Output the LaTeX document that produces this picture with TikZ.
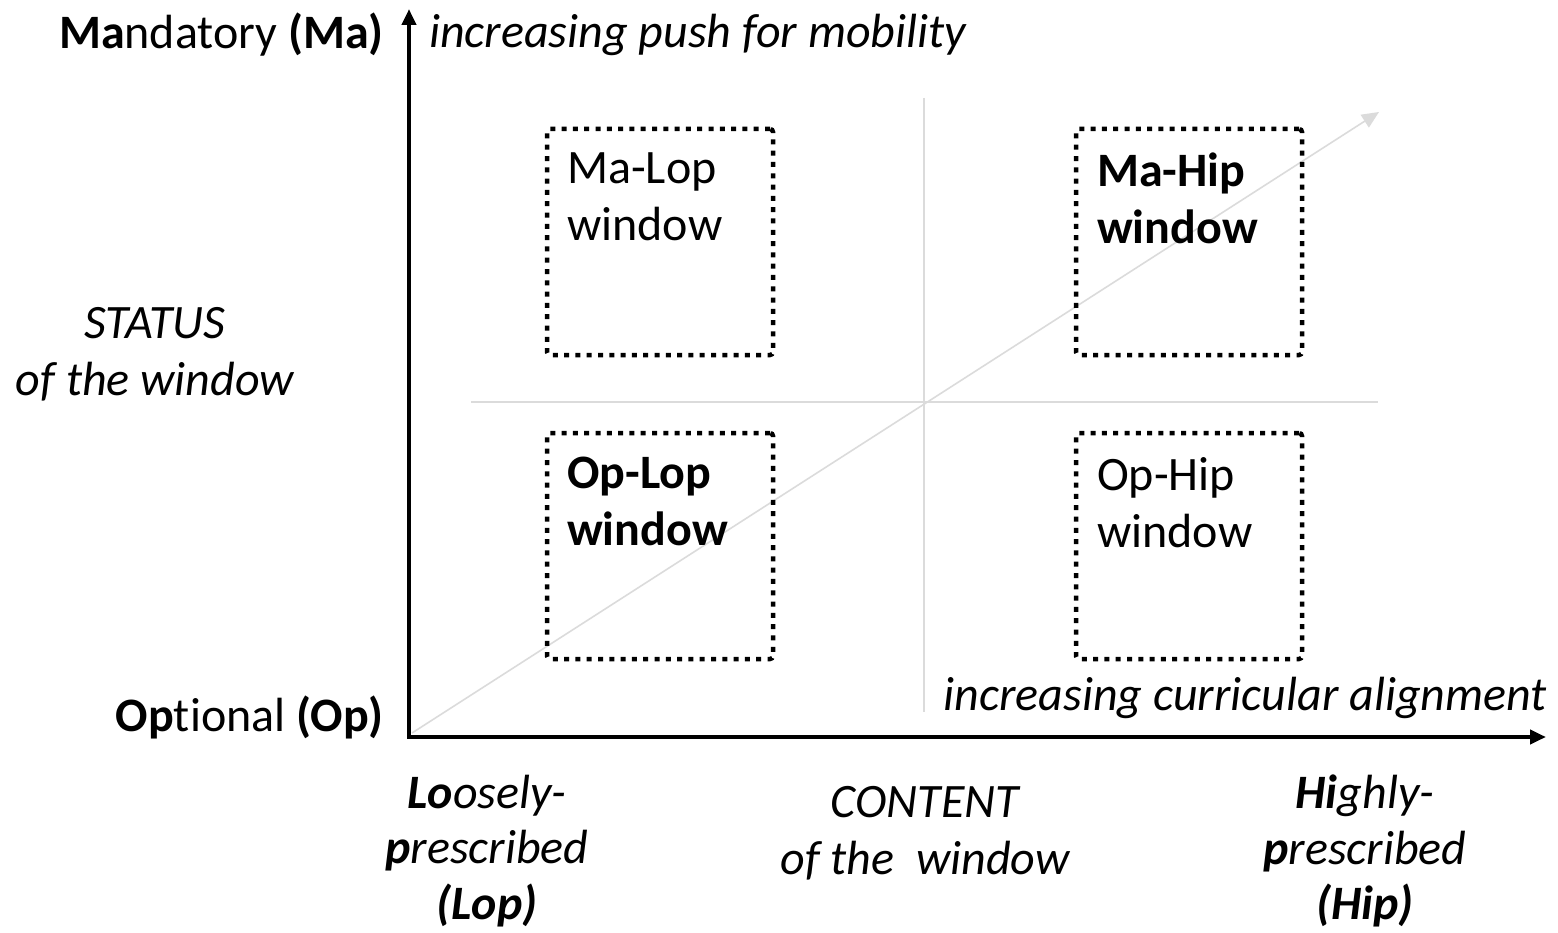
\documentclass[tikz,border=0pt]{standalone}
\usepackage{fontspec}
\setmainfont{Carlito}[Ligatures=NoCommon]
\usetikzlibrary{arrows.meta}
\begin{document}
\begin{tikzpicture}[x=1pt,y=-1pt,
  lbl/.style={inner sep=0pt,font=\fontsize{48}{57}\selectfont,align=center},
  boldlbl/.style={lbl,font=\fontsize{48}{57}\selectfont\bfseries},
  bottomlbl/.style={lbl,font=\fontsize{48}{55.5}\selectfont\itshape},
  winbox/.style={draw,line width=4.5pt,dash pattern=on 5pt off 6.3pt,rounded corners=3pt,minimum width=226pt,minimum height=226pt,inner sep=0pt},
  grayline/.style={draw=black!14,line width=1.6pt},
  axis/.style={line width=4pt,-{Triangle[length=16pt,width=14pt]}}]
\useasboundingbox (0,0) rectangle (1558,933);
% axes
\coordinate (O) at (409,737);
\coordinate (Ytip) at (409,9);
\coordinate (Xtip) at (1546,737);
\draw[axis] ([yshift=2pt]O) -- (Ytip);
\draw[axis] ([xshift=-2pt]O) -- (Xtip);
% gray quadrant lines
\coordinate (hl) at (471,402);
\coordinate (hr) at (1378,402);
\coordinate (vt) at (924,98);
\coordinate (vb) at (924,712);
\draw[grayline] (hl) -- (hr);
\draw[grayline] (vt) -- (vb);
\coordinate (ds) at (412,733);
\coordinate (de) at (1379,112);
\draw[grayline,-{Triangle[length=17pt,width=15pt]}] (ds) -- (de);
% windows
\node[winbox] (malop) at (660,242) {};
\node[winbox] (mahip) at (1189,242) {};
\node[winbox] (oplop) at (660,546) {};
\node[winbox] (ophip) at (1189,546) {};
\node[lbl,align=left,anchor=north west] (tmalop) at (567,153) {Ma-Lop\\window};
\node[boldlbl,align=left,anchor=north west] (tmahip) at (1097,153) {Ma-Hip\\window};
\node[boldlbl,align=left,anchor=north west] (toplop) at (567,457) {Op-Lop\\window};
\node[lbl,align=left,anchor=north west] (tophip) at (1097,457) {Op-Hip\\window};
% axis labels
\node[lbl,anchor=east] (ma) at (384,35) {\textbf{Ma}ndatory \textbf{(Ma)}};
\node[lbl,anchor=west] (push) at (429,35) {\itshape increasing push for mobility};
\node[lbl] (status) at (155,354) {\itshape STATUS\\\itshape of the window};
\node[lbl,anchor=east] (op) at (384,717) {\textbf{Op}tional \textbf{(Op)}};
\node[lbl,anchor=east] (align) at (1547,698) {\itshape increasing curricular alignment};
\node[bottomlbl] (lop) at (487,851) {\textbf{Lo}osely-\\\textbf{p}rescribed\\\textbf{(Lop)}};
\node[lbl] (content) at (925,833) {\itshape CONTENT\\\itshape of the\ \ window};
\node[bottomlbl] (hip) at (1365,851) {\textbf{Hi}ghly-\\\textbf{p}rescribed\\\textbf{(Hip)}};
\end{tikzpicture}
\end{document}
